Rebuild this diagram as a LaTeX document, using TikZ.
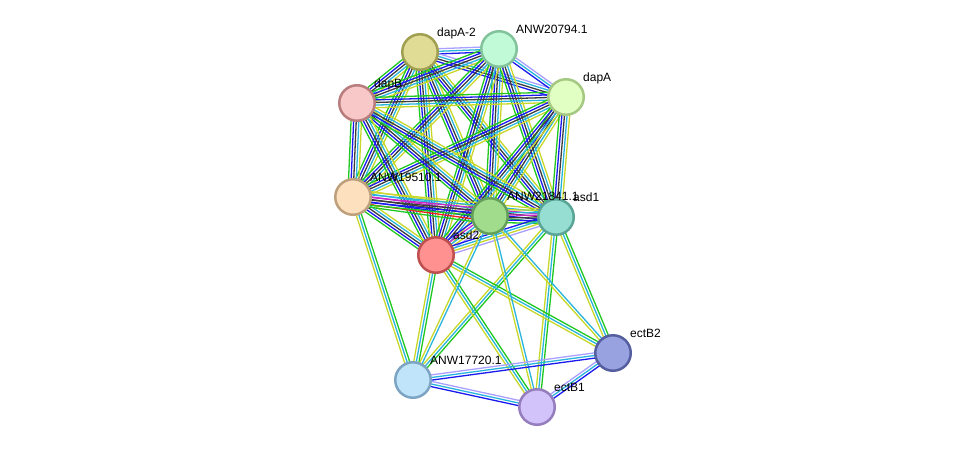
\documentclass[tikz,border=0pt]{standalone}
\usepackage{fontspec}
\setmainfont{Liberation Sans}
\usetikzlibrary{calc}
\pgfdeclarelayer{background}
\pgfsetlayers{background,main}
% evidence channels
\definecolor{chGreen}{RGB}{30, 200, 30}
\definecolor{chRed}{RGB}{240, 30, 30}
\definecolor{chBlue}{RGB}{25, 25, 240}
\definecolor{chBlack}{RGB}{60, 60, 60}
\definecolor{chMagenta}{RGB}{200, 40, 200}
\definecolor{chCyan}{RGB}{40, 180, 220}
\definecolor{chYellow}{RGB}{200, 215, 40}
\definecolor{chLav}{RGB}{170, 160, 255}
% protein nodes
\definecolor{dapAtwoFill}{RGB}{224, 220, 150}\definecolor{dapAtwoLine}{RGB}{160, 160, 80}
\definecolor{anwAFill}{RGB}{192, 250, 215}\definecolor{anwALine}{RGB}{130, 195, 155}
\definecolor{dapAFill}{RGB}{225, 255, 195}\definecolor{dapALine}{RGB}{165, 200, 130}
\definecolor{dapBFill}{RGB}{248, 200, 200}\definecolor{dapBLine}{RGB}{185, 125, 125}
\definecolor{anwBFill}{RGB}{253, 224, 190}\definecolor{anwBLine}{RGB}{190, 160, 125}
\definecolor{anwCFill}{RGB}{160, 220, 140}\definecolor{anwCLine}{RGB}{100, 160, 90}
\definecolor{asdOneFill}{RGB}{150, 222, 210}\definecolor{asdOneLine}{RGB}{90, 165, 150}
\definecolor{asdTwoFill}{RGB}{255, 145, 145}\definecolor{asdTwoLine}{RGB}{190, 80, 80}
\definecolor{ectBtwoFill}{RGB}{152, 162, 224}\definecolor{ectBtwoLine}{RGB}{85, 95, 160}
\definecolor{anwDFill}{RGB}{192, 228, 250}\definecolor{anwDLine}{RGB}{125, 165, 195}
\definecolor{ectBoneFill}{RGB}{210, 195, 250}\definecolor{ectBoneLine}{RGB}{150, 125, 190}

% bundle of parallel channel lines between two nodes
\newcommand{\linkset}[3]{%
  \foreach \chan [count=\k] in {#3} {\global\let\nchan\k}%
  \foreach \chan [count=\k] in {#3} {%
    \pgfmathsetmacro{\shift}{(\k-(\nchan+1)/2)*2.6}%
    \draw[channel, color=\chan] ($(#1.center)!\shift pt!90:(#2.center)$) -- ($(#2.center)!\shift pt!-90:(#1.center)$);
  }%
}

\begin{document}
\begin{tikzpicture}[x=1pt, y=-1pt,
    protein/.style={circle, minimum size=35.5pt, inner sep=0pt, line width=2.5pt},
    plabel/.style={anchor=base west, inner sep=0pt, font=\fontsize{12}{14}\selectfont},
    channel/.style={line width=1.3pt}]
  \useasboundingbox (0,0) rectangle (976,453);

  \node (dapA2) [protein, fill=dapAtwoFill, draw=dapAtwoLine] at (420,52) {};
  \node (anw20794) [protein, fill=anwAFill, draw=anwALine] at (499,49) {};
  \node (dapA) [protein, fill=dapAFill, draw=dapALine] at (566,97) {};
  \node (dapB) [protein, fill=dapBFill, draw=dapBLine] at (357,103) {};
  \node (anw19510) [protein, fill=anwBFill, draw=anwBLine] at (353,197) {};
  \node (anw21841) [protein, fill=anwCFill, draw=anwCLine] at (490,216) {};
  \node (asd1) [protein, fill=asdOneFill, draw=asdOneLine] at (556,217) {};
  \node (asd2) [protein, fill=asdTwoFill, draw=asdTwoLine] at (436,255) {};
  \node (ectB2) [protein, fill=ectBtwoFill, draw=ectBtwoLine] at (613,353) {};
  \node (anw17720) [protein, fill=anwDFill, draw=anwDLine] at (413,380) {};
  \node (ectB1) [protein, fill=ectBoneFill, draw=ectBoneLine] at (537,407) {};

  \node (dapA2-lbl) [plabel] at ($(dapA2.center)+(17,-16)$) {dapA-2};
  \node (anw20794-lbl) [plabel] at ($(anw20794.center)+(17,-16)$) {ANW20794.1};
  \node (dapA-lbl) [plabel] at ($(dapA.center)+(17,-16)$) {dapA};
  \node (dapB-lbl) [plabel] at ($(dapB.center)+(17,-16)$) {dapB};
  \node (anw19510-lbl) [plabel] at ($(anw19510.center)+(17,-16)$) {ANW19510.1};
  \node (anw21841-lbl) [plabel] at ($(anw21841.center)+(17,-16)$) {ANW21841.1};
  \node (asd1-lbl) [plabel] at ($(asd1.center)+(17,-16)$) {asd1};
  \node (asd2-lbl) [plabel] at ($(asd2.center)+(17,-16)$) {asd2};
  \node (ectB2-lbl) [plabel] at ($(ectB2.center)+(17,-16)$) {ectB2};
  \node (anw17720-lbl) [plabel] at ($(anw17720.center)+(17,-16)$) {ANW17720.1};
  \node (ectB1-lbl) [plabel] at ($(ectB1.center)+(17,-16)$) {ectB1};

  \begin{pgfonlayer}{background}
    % dapA paralogs
    \linkset{dapA2}{anw20794}{chBlue,chCyan,chLav}
    \linkset{dapA2}{dapA}{chBlue,chBlack,chCyan,chLav}
    \linkset{anw20794}{dapA}{chBlue,chCyan,chLav}
    % lysine pathway core
    \foreach \src/\dst in {dapA2/dapB, dapA2/anw19510, dapA2/anw21841, dapA2/asd1, dapA2/asd2,
        anw20794/dapB, anw20794/anw19510, anw20794/anw21841, anw20794/asd1, anw20794/asd2,
        dapA/dapB, dapA/anw19510, dapA/anw21841, dapA/asd1, dapA/asd2,
        dapB/anw19510, dapB/anw21841, dapB/asd1, dapB/asd2, anw19510/asd2}
      {\linkset{\src}{\dst}{chGreen,chBlue,chBlack,chCyan,chYellow}}
    \linkset{anw19510}{anw21841}{chGreen,chRed,chBlue,chBlack,chMagenta,chCyan,chYellow}
    \linkset{anw19510}{asd1}{chGreen,chBlue,chBlack,chMagenta,chCyan,chYellow}
    \linkset{anw21841}{asd1}{chGreen,chBlue,chBlack,chMagenta,chCyan,chYellow}
    \linkset{anw21841}{asd2}{chBlue,chMagenta,chCyan,chYellow,chLav}
    \linkset{asd1}{asd2}{chBlue,chCyan,chYellow,chLav}
    % ectoine genes
    \foreach \src/\dst in {anw17720/anw19510, anw17720/asd2, anw17720/asd1,
        ectB1/asd2, ectB1/asd1, ectB2/asd2, ectB2/asd1}
      {\linkset{\src}{\dst}{chGreen,chCyan,chYellow}}
    \foreach \src/\dst in {anw17720/anw21841, ectB1/anw21841, ectB2/anw21841}
      {\linkset{\src}{\dst}{chCyan,chYellow}}
    \foreach \src/\dst in {anw17720/ectB2, anw17720/ectB1, ectB1/ectB2}
      {\linkset{\src}{\dst}{chBlue,chCyan,chLav}}
  \end{pgfonlayer}
\end{tikzpicture}
\end{document}
